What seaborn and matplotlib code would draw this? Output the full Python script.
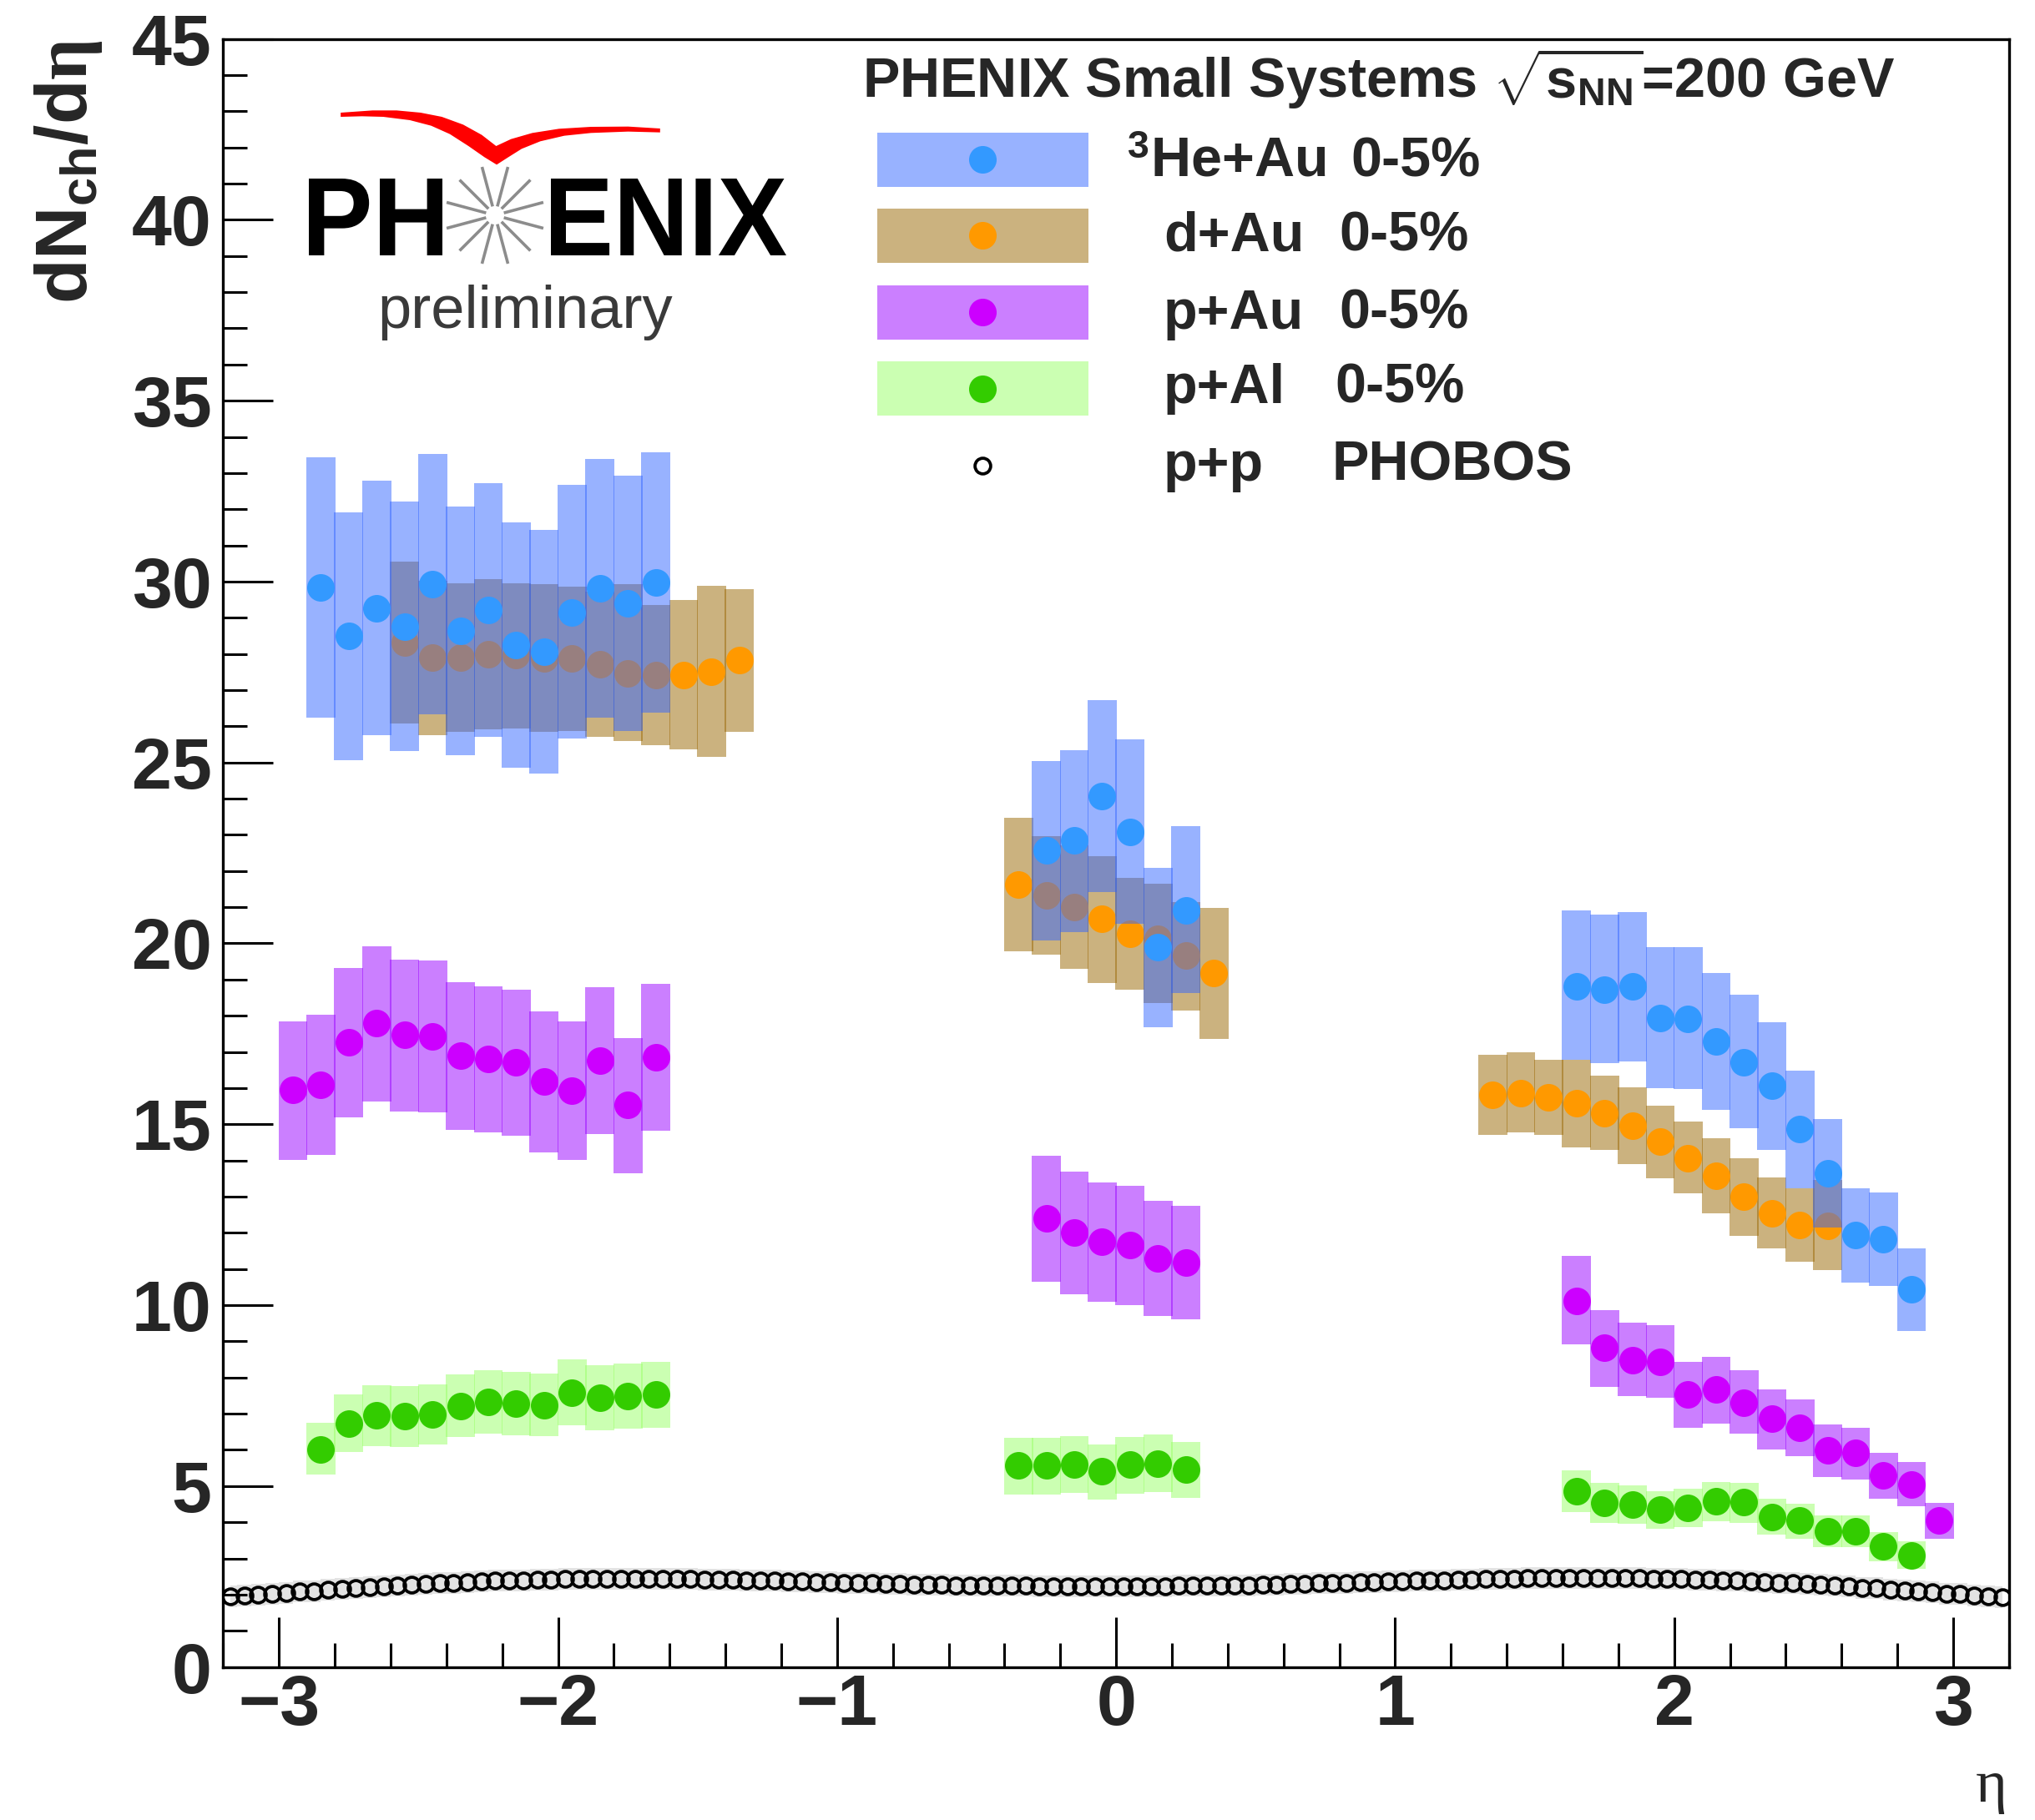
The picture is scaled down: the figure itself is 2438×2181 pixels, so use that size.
import numpy as np
import matplotlib
matplotlib.use("Agg")
import matplotlib.pyplot as plt
import seaborn as sns
from matplotlib.ticker import MultipleLocator
from matplotlib.patches import Rectangle, Polygon, PathPatch
from matplotlib.textpath import TextPath
from matplotlib.font_manager import FontProperties
from matplotlib.transforms import Affine2D, IdentityTransform
from matplotlib.lines import Line2D

# ------------------------------------------------------------------ data
heau_eta = [-2.85, -2.75, -2.65, -2.55, -2.45, -2.35, -2.25, -2.15, -2.05, -1.95, -1.85, -1.75, -1.65,
            -0.25, -0.15, -0.05, 0.05, 0.15, 0.25,
            1.65, 1.75, 1.85, 1.95, 2.05, 2.15, 2.25, 2.35, 2.45, 2.55, 2.65, 2.75, 2.85]
heau_val = [29.84, 28.50, 29.26, 28.75, 29.93, 28.64, 29.22, 28.25, 28.06, 29.15, 29.81, 29.40, 29.97,
            22.56, 22.85, 24.06, 23.09, 19.90, 20.92,
            18.82, 18.73, 18.82, 17.94, 17.92, 17.29, 16.72, 16.06, 14.87, 13.65, 11.94, 11.83, 10.43]
heau_lo = [26.25, 25.06, 25.75, 25.32, 26.33, 25.19, 25.71, 24.85, 24.69, 25.66, 26.23, 25.86, 26.38,
           20.08, 20.32, 21.41, 20.54, 17.69, 18.62,
           16.79, 16.69, 16.74, 15.99, 15.97, 15.39, 14.90, 14.29, 13.23, 12.15, 10.63, 10.54, 9.29]
heau_hi = [33.43, 31.91, 32.78, 32.21, 33.52, 32.07, 32.72, 31.63, 31.42, 32.67, 33.38, 32.92, 33.57,
           25.05, 25.35, 26.72, 25.63, 22.08, 23.23,
           20.90, 20.79, 20.87, 19.90, 19.89, 19.17, 18.57, 17.83, 16.49, 15.15, 13.23, 13.12, 11.57]

dau_eta = [-2.55, -2.45, -2.35, -2.25, -2.15, -2.05, -1.95, -1.85, -1.75, -1.65, -1.55, -1.45, -1.35,
           -0.35, -0.25, -0.15, -0.05, 0.05, 0.15, 0.25, 0.35,
           1.35, 1.45, 1.55, 1.65, 1.75, 1.85, 1.95, 2.05, 2.15, 2.25, 2.35, 2.45, 2.55]
dau_val = [28.31, 27.89, 27.91, 27.99, 27.96, 27.88, 27.88, 27.72, 27.46, 27.41, 27.42, 27.50, 27.82,
           21.63, 21.32, 21.00, 20.68, 20.27, 20.12, 19.66, 19.18,
           15.81, 15.87, 15.75, 15.59, 15.31, 14.97, 14.51, 14.07, 13.57, 12.99, 12.53, 12.22, 12.20]
dau_lo = [26.07, 25.75, 25.84, 25.92, 25.95, 25.84, 25.88, 25.71, 25.59, 25.48, 25.36, 25.15, 25.84,
          19.77, 19.68, 19.29, 18.90, 18.73, 18.35, 18.14, 17.35,
          14.70, 14.77, 14.70, 14.36, 14.28, 13.91, 13.50, 13.08, 12.53, 11.91, 11.56, 11.21, 10.98]
dau_hi = [30.55, 30.03, 29.95, 30.06, 29.95, 29.92, 29.85, 29.72, 29.92, 29.35, 29.48, 29.88, 29.78,
          23.46, 22.96, 22.71, 22.42, 21.80, 21.64, 21.15, 20.97,
          16.93, 16.98, 16.79, 16.79, 16.35, 16.02, 15.52, 15.08, 14.62, 14.06, 13.52, 13.23, 13.45]

pau_eta = [-2.95, -2.85, -2.75, -2.65, -2.55, -2.45, -2.35, -2.25, -2.15, -2.05, -1.95, -1.85, -1.75, -1.65,
           -0.25, -0.15, -0.05, 0.05, 0.15, 0.25,
           1.65, 1.75, 1.85, 1.95, 2.05, 2.15, 2.25, 2.35, 2.45, 2.55, 2.65, 2.75, 2.85, 2.95]
pau_val = [15.95, 16.08, 17.26, 17.80, 17.48, 17.42, 16.90, 16.80, 16.72, 16.19, 15.94, 16.76, 15.53, 16.84,
           12.40, 12.00, 11.75, 11.65, 11.29, 11.18,
           10.12, 8.82, 8.48, 8.44, 7.53, 7.67, 7.31, 6.86, 6.62, 5.99, 5.91, 5.29, 5.05, 4.05]
pau_lo = [14.02, 14.15, 15.18, 15.64, 15.36, 15.32, 14.85, 14.78, 14.69, 14.23, 14.02, 14.74, 13.65, 14.81,
          10.65, 10.31, 10.10, 10.01, 9.71, 9.62,
          8.91, 7.75, 7.48, 7.43, 6.62, 6.73, 6.44, 6.02, 5.82, 5.26, 5.19, 4.66, 4.45, 3.55]
pau_hi = [17.85, 18.02, 19.33, 19.93, 19.56, 19.52, 18.92, 18.82, 18.71, 18.13, 17.85, 18.78, 17.39, 18.87,
          14.14, 13.68, 13.40, 13.29, 12.89, 12.75,
          11.35, 9.87, 9.52, 9.45, 8.44, 8.58, 8.21, 7.68, 7.40, 6.71, 6.62, 5.92, 5.67, 4.54]

pal_eta = [-2.85, -2.75, -2.65, -2.55, -2.45, -2.35, -2.25, -2.15, -2.05, -1.95, -1.85, -1.75, -1.65,
           -0.35, -0.25, -0.15, -0.05, 0.05, 0.15, 0.25,
           1.65, 1.75, 1.85, 1.95, 2.05, 2.15, 2.25, 2.35, 2.45, 2.55, 2.65, 2.75, 2.85]
pal_val = [6.02, 6.73, 6.96, 6.94, 6.97, 7.22, 7.33, 7.29, 7.24, 7.59, 7.45, 7.48, 7.54,
           5.57, 5.57, 5.60, 5.40, 5.59, 5.62, 5.45,
           4.85, 4.54, 4.49, 4.34, 4.40, 4.58, 4.55, 4.15, 4.04, 3.74, 3.74, 3.34, 3.09]
pal_lo = [5.31, 5.93, 6.11, 6.09, 6.14, 6.35, 6.44, 6.41, 6.37, 6.69, 6.55, 6.58, 6.62,
          4.77, 4.77, 4.82, 4.63, 4.79, 4.84, 4.68,
          4.27, 3.99, 3.95, 3.81, 3.87, 4.02, 3.99, 3.65, 3.55, 3.30, 3.30, 2.93, 2.72]
pal_hi = [6.75, 7.54, 7.79, 7.77, 7.82, 8.09, 8.21, 8.16, 8.11, 8.51, 8.35, 8.38, 8.44,
          6.34, 6.34, 6.39, 6.15, 6.36, 6.43, 6.22,
          5.44, 5.09, 5.02, 4.86, 4.93, 5.12, 5.09, 4.65, 4.51, 4.19, 4.19, 3.73, 3.48]

# PHOBOS p+p, bins of 0.05 starting at eta = -3.175
pp_eta_start = -3.175
pp_eta_step = 0.05
pp_val = [1.95, 1.98, 2.00, 2.03, 2.05, 2.08, 2.10, 2.13, 2.16, 2.19, 2.21, 2.23, 2.25, 2.27, 2.29, 2.31,
          2.33, 2.35, 2.36, 2.38, 2.39, 2.40, 2.41, 2.42, 2.43, 2.43, 2.44, 2.44, 2.44, 2.44, 2.44, 2.44,
          2.43, 2.43, 2.42, 2.42, 2.41, 2.40, 2.39, 2.38, 2.37, 2.36, 2.35, 2.34, 2.33, 2.32, 2.31, 2.30,
          2.29, 2.28, 2.27, 2.27, 2.26, 2.25, 2.25, 2.24, 2.24, 2.24, 2.23, 2.23, 2.23, 2.23, 2.23, 2.23,
          2.23, 2.23, 2.23, 2.23, 2.24, 2.24, 2.24, 2.25, 2.25, 2.26, 2.27, 2.28, 2.29, 2.30, 2.31, 2.32,
          2.33, 2.34, 2.35, 2.36, 2.37, 2.38, 2.39, 2.40, 2.41, 2.42, 2.43, 2.44, 2.44, 2.45, 2.45, 2.46,
          2.46, 2.46, 2.46, 2.46, 2.45, 2.45, 2.44, 2.44, 2.43, 2.42, 2.41, 2.40, 2.38, 2.37, 2.35, 2.33,
          2.31, 2.29, 2.27, 2.24, 2.22, 2.19, 2.17, 2.14, 2.11, 2.09, 2.06, 2.03, 2.01, 1.98, 1.95, 1.92]
pp_band = 0.30

title_text = r"PHENIX Small Systems $\sqrt{\mathrm{s}_{\mathrm{NN}}}$=200 GeV"
legend_names = [r"$^{\mathrm{3}}$He+Au", "d+Au", "p+Au", "p+Al", "p+p"]
legend_tags = ["0-5%", "0-5%", "0-5%", "0-5%", "PHOBOS"]

# ------------------------------------------------------------------ style
sns.set_style("white")
plt.rcParams.update({
    "font.family": ["Liberation Sans", "DejaVu Sans"],
    "font.weight": "bold",
    "mathtext.fontset": "custom",
    "mathtext.rm": "Liberation Sans:bold",
    "mathtext.bf": "Liberation Sans:bold",
    "mathtext.sf": "Liberation Sans:bold",
    "mathtext.it": "Liberation Serif",
    "axes.unicode_minus": True,
    "xtick.bottom": True,
    "ytick.left": True,
})

W, H = 2438, 2181
fig = plt.figure(figsize=(W / 100, H / 100), dpi=100)
fig.patch.set_facecolor("white")
ax = fig.add_axes([172 / 1568, 1 - 1285 / 1403, (1548 - 172) / 1568, (1285 - 30) / 1403])
ax.set_facecolor("white")

BIN_W = 0.1
S_PT = 564

C_HE_BOX, C_HE_PT = "#3366ff", "#3399ff"
C_D_BOX, C_D_PT = "#996600", "#ff9900"
C_PAU_BOX, C_PAU_PT = "#9900ff", "#cc00ff"
C_PAL_BOX, C_PAL_PT = "#99ff66", "#33cc00"


def draw_system(eta, val, lo, hi, box_c, pt_c, zb, zp):
    eta = np.asarray(eta, float)
    lo = np.asarray(lo, float)
    hi = np.asarray(hi, float)
    ax.bar(eta, hi - lo, bottom=lo, width=BIN_W + 0.004, color=box_c, alpha=0.5,
           linewidth=0, zorder=zb, align="center")
    sns.scatterplot(x=eta, y=np.asarray(val, float), s=S_PT, color=pt_c, linewidth=0,
                    zorder=zp, ax=ax, legend=False)


# PHOBOS p+p
pp_v = np.asarray(pp_val)
pp_x = pp_eta_start + pp_eta_step * np.arange(len(pp_v))
ax.fill_between(pp_x, pp_v - pp_band, pp_v + pp_band, step="mid", color="#e3e3e3",
                linewidth=0, zorder=0.5)
ax.plot(pp_x, pp_v, ls="none", marker="o", ms=13.5, mfc="none", mec="black", mew=2.7, zorder=1)

draw_system(dau_eta, dau_val, dau_lo, dau_hi, C_D_BOX, C_D_PT, 2, 3)
draw_system(heau_eta, heau_val, heau_lo, heau_hi, C_HE_BOX, C_HE_PT, 4, 5)
draw_system(pau_eta, pau_val, pau_lo, pau_hi, C_PAU_BOX, C_PAU_PT, 6, 7)
draw_system(pal_eta, pal_val, pal_lo, pal_hi, C_PAL_BOX, C_PAL_PT, 8, 9)

# ------------------------------------------------------------------ axes
ax.set_xlim(-3.2, 3.2)
ax.set_ylim(0, 45)
ax.xaxis.set_major_locator(MultipleLocator(1))
ax.xaxis.set_minor_locator(MultipleLocator(0.2))
ax.yaxis.set_major_locator(MultipleLocator(5))
ax.yaxis.set_minor_locator(MultipleLocator(1))
ax.tick_params(which="both", direction="in", bottom=True, left=True, top=False, right=False,
               width=2.2, color="black")
ax.tick_params(which="major", length=43)
ax.tick_params(which="minor", length=21)
ax.tick_params(axis="x", which="major", labelsize=62, pad=5)
ax.tick_params(axis="y", which="major", labelsize=62, pad=10)
for lab in ax.get_xticklabels() + ax.get_yticklabels():
    lab.set_fontweight("bold")
for s in ax.spines.values():
    s.set_linewidth(2.4)
    s.set_color("black")
ax.set_xlabel("")
ax.set_ylabel("")

fig.text(39 / W, 1 - 47 / H, r"dN$_{\mathrm{ch}}$/d$\eta$", rotation=90, ha="left", va="top",
         fontsize=63, fontweight="bold")
fig.text(2405 / W, 22 / H, "η", ha="right", va="baseline", fontsize=52,
         family="Liberation Serif", fontweight="normal")

# ------------------------------------------------------------------ legend
ax.text(0.3579, 0.964, title_text, transform=ax.transAxes, fontsize=48, ha="left", va="baseline")
box_c = [C_HE_BOX, C_D_BOX, C_PAU_BOX, C_PAL_BOX, None]
pt_c = [C_HE_PT, C_D_PT, C_PAU_PT, C_PAL_PT, None]
box_y = [(0.9092, 0.9424), (0.8625, 0.8958), (0.8153, 0.8486), (0.7687, 0.8019), None]
mark_y = [0.9258, 0.8792, 0.8320, 0.7853, 0.7380]
base_y = [0.9155, 0.8698, 0.8222, 0.7764, 0.7288]
name_x = [0.5058, 0.5265, 0.5265, 0.5265, 0.5265]
tag_x = [0.6313, 0.625, 0.625, 0.6226, 0.6206]
for i in range(5):
    if box_c[i] is not None:
        y0, y1 = box_y[i]
        ax.add_patch(Rectangle((0.3663, y0), 0.4845 - 0.3663, y1 - y0, transform=ax.transAxes,
                               facecolor=box_c[i], alpha=0.5, linewidth=0, zorder=10))
        ax.plot([0.425], [mark_y[i]], marker="o", ms=23.8, color=pt_c[i], mew=0,
                transform=ax.transAxes, zorder=11, clip_on=False)
    else:
        ax.plot([0.425], [mark_y[i]], marker="o", ms=13.5, mfc="none", mec="black", mew=2.7,
                transform=ax.transAxes, zorder=11, clip_on=False)
    ax.text(name_x[i], base_y[i], legend_names[i], transform=ax.transAxes, fontsize=48,
            ha="left", va="baseline", zorder=12)
    ax.text(tag_x[i], base_y[i], legend_tags[i], transform=ax.transAxes, fontsize=48,
            ha="left", va="baseline", zorder=12)

# ------------------------------------------------------------------ PHENIX logo
fp_bold = FontProperties(family="Liberation Sans", weight="bold")


def logo_word(txt, left, width, top, base):
    p = TextPath((0, 0), txt, size=100, prop=fp_bold)
    bb = p.get_extents()
    sx = width / bb.width
    sy = (base - top) / bb.height
    tr = Affine2D().translate(-bb.x0, -bb.y0).scale(sx, sy).translate(left, H - base)
    patch = PathPatch(p, transform=tr, facecolor="black", edgecolor="none", lw=0)
    fig.add_artist(patch)


logo_word("PH", 370, 160, 214, 306)
logo_word("ENIX", 660, 282, 214, 306)

cx, cy = 593, H - 258
for k in range(12):
    a = np.deg2rad(15 + 30 * k)
    ln = Line2D([cx + 11 * np.cos(a), cx + 60 * np.cos(a)],
                [cy + 11 * np.sin(a), cy + 60 * np.sin(a)],
                transform=IdentityTransform(), color="#8c8c8c", lw=2.6, solid_capstyle="butt")
    fig.add_artist(ln)

upper = [(640, 405), (700, 397), (745, 397), (790, 405), (830, 420), (870, 448), (905, 485),
         (932, 525), (960, 500), (1000, 478), (1050, 463), (1110, 456), (1180, 455), (1240, 462)]
lower = [(1240, 476), (1180, 473), (1110, 478), (1060, 488), (1015, 508), (980, 535), (955, 565),
         (933, 592), (910, 565), (880, 525), (845, 482), (810, 452), (770, 432), (720, 420),
         (680, 418), (640, 420)]
sw = [(zx / 1.568, H - zy / 3.0) for zx, zy in upper + lower]
fig.add_artist(Polygon(sw, closed=True, transform=IdentityTransform(), facecolor="#ff0000",
                       edgecolor="none"))

fig.text(452 / W, 1 - 393 / H, "preliminary", ha="left", va="baseline", fontsize=52,
         fontweight="normal", color="#3a3a3a")

fig.savefig("out.png", dpi=100, facecolor="white")
